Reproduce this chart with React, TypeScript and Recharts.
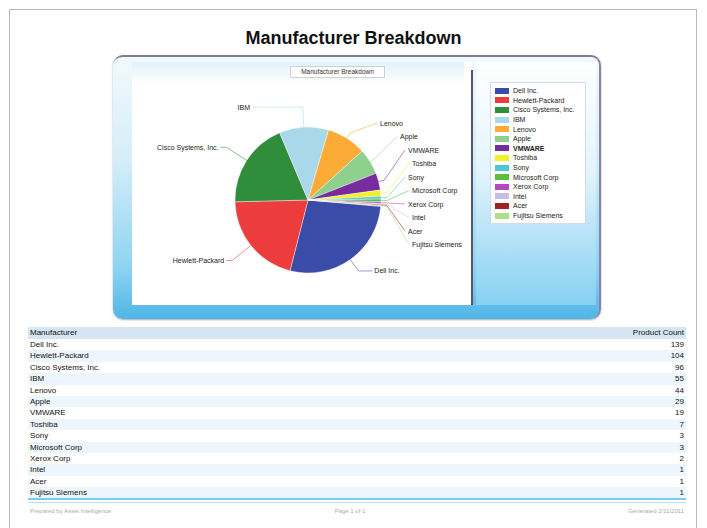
import React from "react";
import { PieChart, Pie, Cell, Legend } from "recharts";

const manufacturers = [
  "Dell Inc.",
  "Hewlett-Packard",
  "Cisco Systems, Inc.",
  "IBM",
  "Lenovo",
  "Apple",
  "VMWARE",
  "Toshiba",
  "Sony",
  "Microsoft Corp",
  "Xerox Corp",
  "Intel",
  "Acer",
  "Fujitsu Siemens",
];
const productCounts = [139, 104, 96, 55, 44, 29, 19, 7, 3, 3, 2, 1, 1, 1];
const sliceColors = [
  "#3b4ba8",
  "#ec3c3c",
  "#2f8d3c",
  "#a9d8ea",
  "#fbab36",
  "#8fd08e",
  "#782b9c",
  "#f3ef2a",
  "#4fc6d8",
  "#5bbf3e",
  "#b24bbf",
  "#c9bce3",
  "#a12222",
  "#aee08c",
];
const chartTitle = "Manufacturer Breakdown";
const tableHeaders = ["Manufacturer", "Product Count"];
const footerTexts = ["Prepared by Asset Intelligence", "Page 1 of 1", "Generated 2/11/2011"];

const data = manufacturers.map((name, i) => ({
  name,
  value: productCounts[i],
  fill: sliceColors[i],
}));

const FONT = "'Liberation Sans', Arial, sans-serif";
const RAD = Math.PI / 180;

function polar(cx: number, cy: number, r: number, angle: number) {
  return { x: cx + r * Math.cos(-angle * RAD), y: cy + r * Math.sin(-angle * RAD) };
}

const renderLabel = (props: any) => {
  const { cx, cy, midAngle, outerRadius, index, name, fill } = props;
  const e = polar(cx, cy, outerRadius, midAngle);
  let pts: { x: number; y: number }[] = [];
  let tx = 0;
  let ty = 0;
  let anchor: "start" | "end" = "start";
  if (index <= 2) {
    const el = polar(cx, cy, outerRadius + (index === 0 ? 14 : 24), midAngle);
    const right = el.x > cx;
    const end = { x: el.x + (right ? 14 : -6), y: el.y };
    pts = [e, el, end];
    tx = end.x + (right ? 2 : -2);
    ty = end.y;
    anchor = right ? "start" : "end";
  } else if (index === 3) {
    const el = polar(cx, cy, outerRadius + 20, midAngle);
    const end = { x: cx - 55, y: el.y };
    pts = [e, el, end];
    tx = end.x - 3;
    ty = end.y;
    anchor = "end";
  } else {
    const el = polar(cx, cy, outerRadius + 6, midAngle);
    const lx = cx + (index === 4 ? 72 : index === 5 ? 92 : 100 + ((index % 2) * 4));
    const ly = cy - 77 + (index - 4) * 13.5;
    pts = [e, el, { x: lx - 3, y: ly }];
    tx = lx;
    ty = ly;
    anchor = "start";
  }
  return (
    <g key={`lbl-${index}`}>
      <polyline
        points={pts.map((p) => `${p.x},${p.y}`).join(" ")}
        fill="none"
        stroke={fill}
        strokeWidth={0.8}
        opacity={0.7}
      />
      <text
        x={tx}
        y={ty}
        textAnchor={anchor}
        dominantBaseline="central"
        fontSize={7}
        fontFamily={FONT}
        fill="#222"
      >
        {name}
      </text>
    </g>
  );
};

const renderLegend = (props: any) => {
  const payload = [...(props.payload || [])].sort(
    (a: any, b: any) => manufacturers.indexOf(a.value) - manufacturers.indexOf(b.value)
  );
  return (
    <div
      style={{
        background: "#fff",
        border: "1px solid #cfdbe6",
        padding: "3px 4px",
        width: 86,
        boxSizing: "content-box",
      }}
    >
      {payload.map((p: any, i: number) => (
        <div key={i} style={{ display: "flex", alignItems: "center", height: 9.6 }}>
          <span
            style={{
              display: "inline-block",
              width: 14,
              height: 6,
              background: p.color,
              marginRight: 4,
              flex: "none",
            }}
          />
          <span
            style={{
              fontSize: 7,
              fontFamily: FONT,
              color: "#222",
              whiteSpace: "nowrap",
              fontWeight: i === 6 ? 700 : 400,
            }}
          >
            {p.value}
          </span>
        </div>
      ))}
    </div>
  );
};

const abs = (l: number, t: number, w: number, h: number, extra: React.CSSProperties = {}): React.CSSProperties => ({
  position: "absolute",
  left: l,
  top: t,
  width: w,
  height: h,
  ...extra,
});

export default function App() {
  const rowH = 11.4;
  return (
    <div style={{ position: "absolute", left: 0, top: 0, width: 707, height: 528, overflow: "hidden", background: "#fff", fontFamily: FONT }}>
      {/* page frame */}
      <div style={abs(9, 9, 688, 540, { border: "1px solid #b9b9b9", boxSizing: "border-box" })} />
      {/* title */}
      <div style={abs(0, 27, 707, 22, { textAlign: "center", fontSize: 18, fontWeight: 700, color: "#111", lineHeight: "22px" })}>
        {chartTitle}
      </div>
      {/* chart panel */}
      <div
        style={abs(113, 55, 488, 264, {
          borderRadius: 10,
          background: "linear-gradient(180deg, #f1f9fd 0%, #d4edf9 40%, #8fd4f2 80%, #4fb6e6 100%)",
          borderTop: "2px solid #7f7e90",
          borderRight: "2px solid #8884a6",
          boxSizing: "border-box",
          boxShadow: "0 1px 2px rgba(80,80,120,0.5)",
        })}
      />
      {/* plot area */}
      <div style={abs(132, 62, 332, 243, { background: "#fff", borderRight: "1px solid #d8d8d8" })} />
      <div style={abs(132, 62, 332, 24, { background: "linear-gradient(180deg, #e2f3fb 0%, #ffffff 100%)" })} />
      <div style={abs(290, 66, 95, 12, { background: "#fff", border: "1px solid #d0d0d0", boxSizing: "border-box", fontSize: 6.5, textAlign: "center", lineHeight: "10px", color: "#333" })}>
        {chartTitle}
      </div>
      <div style={abs(464, 62, 8, 243, { background: "#fff" })} />
      <div style={abs(471, 70, 2, 235, { background: "#55566a" })} />
      {/* legend panel */}
      <div style={abs(476, 62, 120, 243, { background: "linear-gradient(180deg, #ffffff 0%, #e3f4fc 45%, #86d0f1 100%)" })} />

      <div style={abs(132, 62, 464, 243)}>
        <PieChart width={464} height={243}>
          <Pie
            data={data}
            dataKey="value"
            nameKey="name"
            cx={171}
            cy={133}
            outerRadius={73}
            startAngle={-5}
            endAngle={-365}
            stroke="#ffffff"
            strokeWidth={0.4}
            label={renderLabel}
            labelLine={false}
            isAnimationActive={false}
          >
            {data.map((d, i) => (
              <Cell key={i} fill={d.fill} />
            ))}
          </Pie>
          <Legend
            layout="vertical"
            align="right"
            verticalAlign="top"
            content={renderLegend}
            wrapperStyle={{ left: 358, top: 20, width: 96 }}
          />
        </PieChart>
      </div>

      {/* table */}
      <div style={abs(28, 327, 658, 12, { background: "#d5e5f4" })} />
      <div style={abs(30, 327, 300, 12, { fontSize: 8, lineHeight: "12px", color: "#111" })}>{tableHeaders[0]}</div>
      <div style={abs(560, 327, 124, 12, { fontSize: 8, lineHeight: "12px", color: "#111", textAlign: "right" })}>{tableHeaders[1]}</div>
      {manufacturers.map((m, i) => (
        <React.Fragment key={m}>
          <div style={abs(28, 339 + i * rowH, 658, rowH, { background: i % 2 === 0 ? "#ffffff" : "#eef6fd" })} />
          <div style={abs(30, 339 + i * rowH, 300, rowH, { fontSize: 8, lineHeight: `${rowH}px`, color: "#111" })}>{m}</div>
          <div style={abs(600, 339 + i * rowH, 84, rowH, { fontSize: 8, lineHeight: `${rowH}px`, color: "#111", textAlign: "right" })}>
            {productCounts[i]}
          </div>
        </React.Fragment>
      ))}
      {/* footer */}
      <div style={abs(28, 498, 658, 2, { background: "#7ccbf0" })} />
      <div style={abs(28, 502, 658, 1, { background: "#b7e2f6" })} />
      <div style={abs(30, 506, 200, 10, { fontSize: 6, color: "#aaa", lineHeight: "10px" })}>{footerTexts[0]}</div>
      <div style={abs(250, 506, 200, 10, { fontSize: 6, color: "#aaa", lineHeight: "10px", textAlign: "center" })}>{footerTexts[1]}</div>
      <div style={abs(484, 506, 200, 10, { fontSize: 6, color: "#aaa", lineHeight: "10px", textAlign: "right" })}>{footerTexts[2]}</div>
    </div>
  );
}
